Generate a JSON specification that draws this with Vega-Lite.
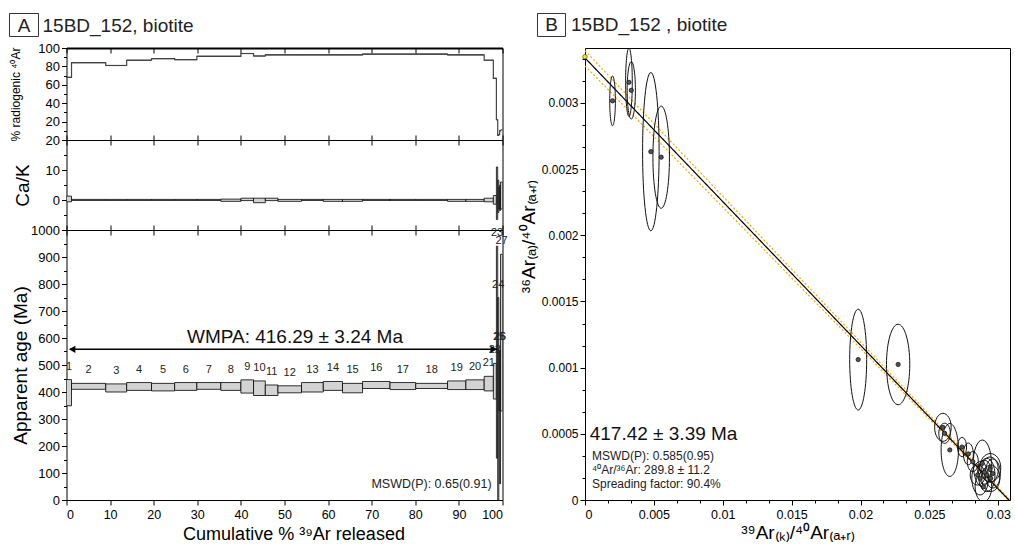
{
  "$schema": "https://vega.github.io/schema/vega-lite/v6.json",
  "padding": {"left": 6.5, "top": 10, "right": 2, "bottom": 2},
  "spacing": 9.5,
  "config": {
    "font": "Liberation Sans",
    "view": {"stroke": "#000", "strokeWidth": 1},
    "axis": {"domain": false, "grid": false, "labelColor": "#000", "tickColor": "#000", "titleColor": "#000", "titleFontWeight": "normal", "labelFontSize": 13, "tickWidth": 1, "labelOverlap": false}
  },
  "datasets": {
    "one": [{}],
    "steps": [
      {"step": 1, "c0": 0, "c1": 1.15, "rad": 68, "caLo": -0.6, "caHi": 1.3, "ageLo": 349, "ageHi": 446},
      {"step": 2, "c0": 1.15, "c1": 9.0, "rad": 84, "caLo": -0.15, "caHi": 0.2, "ageLo": 410, "ageHi": 432},
      {"step": 3, "c0": 9.0, "c1": 13.8, "rad": 81, "caLo": -0.15, "caHi": 0.2, "ageLo": 400, "ageHi": 430},
      {"step": 4, "c0": 13.8, "c1": 19.5, "rad": 86.7, "caLo": -0.15, "caHi": 0.2, "ageLo": 406, "ageHi": 435},
      {"step": 5, "c0": 19.5, "c1": 24.8, "rad": 88.5, "caLo": -0.15, "caHi": 0.2, "ageLo": 404, "ageHi": 432},
      {"step": 6, "c0": 24.8, "c1": 29.9, "rad": 87.4, "caLo": -0.15, "caHi": 0.2, "ageLo": 406, "ageHi": 435},
      {"step": 7, "c0": 29.9, "c1": 35.4, "rad": 91, "caLo": -0.15, "caHi": 0.2, "ageLo": 410, "ageHi": 435},
      {"step": 8, "c0": 35.4, "c1": 40.0, "rad": 91, "caLo": -0.45, "caHi": 0.3, "ageLo": 406, "ageHi": 435},
      {"step": 9, "c0": 40.0, "c1": 42.9, "rad": 94, "caLo": -0.2, "caHi": 0.6, "ageLo": 396, "ageHi": 445},
      {"step": 10, "c0": 42.9, "c1": 45.6, "rad": 91.3, "caLo": -0.9, "caHi": 0.6, "ageLo": 387, "ageHi": 441},
      {"step": 11, "c0": 45.6, "c1": 48.5, "rad": 92.6, "caLo": -0.2, "caHi": 0.6, "ageLo": 387, "ageHi": 426},
      {"step": 12, "c0": 48.5, "c1": 53.9, "rad": 92.6, "caLo": -0.45, "caHi": 0.2, "ageLo": 397, "ageHi": 423},
      {"step": 13, "c0": 53.9, "c1": 58.9, "rad": 92.6, "caLo": -0.15, "caHi": 0.2, "ageLo": 400, "ageHi": 435},
      {"step": 14, "c0": 58.9, "c1": 63.3, "rad": 92.6, "caLo": -0.45, "caHi": 0.2, "ageLo": 406, "ageHi": 439},
      {"step": 15, "c0": 63.3, "c1": 67.9, "rad": 92.6, "caLo": -0.45, "caHi": 0.2, "ageLo": 397, "ageHi": 432},
      {"step": 16, "c0": 67.9, "c1": 74.2, "rad": 93.3, "caLo": -0.15, "caHi": 0.2, "ageLo": 413, "ageHi": 439},
      {"step": 17, "c0": 74.2, "c1": 80.1, "rad": 93.3, "caLo": -0.15, "caHi": 0.2, "ageLo": 409, "ageHi": 435},
      {"step": 18, "c0": 80.1, "c1": 87.4, "rad": 93.3, "caLo": -0.15, "caHi": 0.2, "ageLo": 413, "ageHi": 432},
      {"step": 19, "c0": 87.4, "c1": 91.6, "rad": 92.6, "caLo": -0.45, "caHi": 0.2, "ageLo": 409, "ageHi": 441},
      {"step": 20, "c0": 91.6, "c1": 95.8, "rad": 92.6, "caLo": -0.45, "caHi": 0.2, "ageLo": 409, "ageHi": 445},
      {"step": 21, "c0": 95.8, "c1": 97.9, "rad": 86.7, "caLo": -0.6, "caHi": 0.6, "ageLo": 404, "ageHi": 458},
      {"step": 22, "c0": 97.9, "c1": 98.6, "rad": 67, "caLo": -1.4, "caHi": 1.5, "ageLo": 374, "ageHi": 506},
      {"step": 23, "c0": 98.6, "c1": 98.9, "rad": 22, "caLo": -6.5, "caHi": 11, "ageLo": 155, "ageHi": 940},
      {"step": 24, "c0": 98.9, "c1": 99.15, "rad": 5, "caLo": -4.2, "caHi": 6.6, "ageLo": -50, "ageHi": 750},
      {"step": 25, "c0": 99.15, "c1": 99.35, "rad": 6, "caLo": -3, "caHi": 4.3, "ageLo": 330, "ageHi": 555},
      {"step": 26, "c0": 99.35, "c1": 99.55, "rad": 10, "caLo": -3.5, "caHi": 5, "ageLo": 60, "ageHi": 555},
      {"step": 27, "c0": 99.55, "c1": 100, "rad": 11, "caLo": -3, "caHi": 6, "ageLo": 330, "ageHi": 910}
    ],
    "iso": [
      {"x": 0.00200, "y": 0.003016, "sx": 0.000205, "sy": 0.000188},
      {"x": 0.00319, "y": 0.003156, "sx": 0.000242, "sy": 0.000258},
      {"x": 0.00336, "y": 0.003095, "sx": 0.000300, "sy": 0.000217},
      {"x": 0.00478, "y": 0.002632, "sx": 0.000600, "sy": 0.000598},
      {"x": 0.00553, "y": 0.002590, "sx": 0.000600, "sy": 0.000386},
      {"x": 0.01983, "y": 0.001061, "sx": 0.000616, "sy": 0.000381},
      {"x": 0.02273, "y": 0.001024, "sx": 0.000845, "sy": 0.000304},
      {"x": 0.02598, "y": 0.000549, "sx": 0.000600, "sy": 0.000106},
      {"x": 0.02610, "y": 0.000504, "sx": 0.000420, "sy": 0.000076},
      {"x": 0.02648, "y": 0.000378, "sx": 0.000630, "sy": 0.000200},
      {"x": 0.02737, "y": 0.000400, "sx": 0.000325, "sy": 0.000073},
      {"x": 0.02783, "y": 0.000348, "sx": 0.000360, "sy": 0.000082},
      {"x": 0.02815, "y": 0.000290, "sx": 0.000400, "sy": 0.000076},
      {"x": 0.02884, "y": 0.000277, "sx": 0.000660, "sy": 0.000176},
      {"x": 0.02942, "y": 0.000244, "sx": 0.000760, "sy": 0.000107},
      {"x": 0.02916, "y": 0.000189, "sx": 0.000600, "sy": 0.000126},
      {"x": 0.02868, "y": 0.000164, "sx": 0.000600, "sy": 0.000126},
      {"x": 0.02940, "y": 0.000230, "sx": 0.000600, "sy": 0.000095},
      {"x": 0.02892, "y": 0.000100, "sx": 0.000600, "sy": 0.000113},
      {"x": 0.02945, "y": 0.000164, "sx": 0.000660, "sy": 0.000100},
      {"x": 0.02850, "y": 0.000189, "sx": 0.000540, "sy": 0.000076},
      {"x": 0.02900, "y": 0.000210, "sx": 0.000500, "sy": 0.000090},
      {"x": 0.02960, "y": 0.000200, "sx": 0.000550, "sy": 0.000110}
    ],
    "lines": [
      {"line": "upper", "x": 0, "y": 0.003395},
      {"line": "upper", "x": 0.03085, "y": 0.0},
      {"line": "lower", "x": 0, "y": 0.00328},
      {"line": "lower", "x": 0.03072, "y": 0.0},
      {"line": "fit", "x": 0, "y": 0.00334},
      {"line": "fit", "x": 0.03077, "y": 0.0}
    ]
  },
  "hconcat": [
    {
      "spacing": 0,
      "bounds": "flush",
      "vconcat": [
        {
          "width": 436,
          "height": 92,
          "layer": [
            {
              "data": {"name": "steps"},
              "mark": {"type": "line", "interpolate": "step-after", "color": "#444", "strokeWidth": 1.2},
              "encoding": {
                "x": {"field": "c0", "type": "quantitative", "scale": {"domain": [0, 100], "nice": false},
                  "axis": {"orient": "bottom", "values": [0,10,20,30,40,50,60,70,80,90,100], "tickCount": 100, "labels": false, "tickSize": -5, "title": null}},
                "y": {"field": "rad", "type": "quantitative", "scale": {"domain": [0, 100], "nice": false},
                  "axis": {"values": [0,10,20,30,40,50,60,70,80,90,100], "tickCount": 100, "labelExpr": "datum.value % 20 == 0 && datum.value > 0 ? format(datum.value, 'd') : ''",
                    "tickSize": {"condition": {"test": "datum.value % 20 == 0", "value": 5}, "value": 3},
                    "labelPadding": 2, "title": "% radiogenic ⁴⁰Ar", "titleFontSize": 12, "titlePadding": 15}}
              }
            },
            {
              "data": {"name": "steps"},
              "mark": {"type": "rule", "color": "#444", "strokeWidth": 1.2},
              "encoding": {
                "x": {"field": "c0", "type": "quantitative",
                  "axis": {"orient": "top", "values": [0,10,20,30,40,50,60,70,80,90,100], "tickCount": 100, "labels": false, "tickSize": -5, "title": null, "domain": true, "domainWidth": 2, "domainColor": "#000"}},
                "x2": {"field": "c1"},
                "y": {"field": "rad", "type": "quantitative"}
              }
            },
            {
              "data": {"name": "one"},
              "mark": {"type": "point", "shape": "M -14.5 -11.5 L 14.5 -11.5 L 14.5 11.5 L -14.5 11.5 Z", "size": 4, "filled": false, "stroke": "#333", "strokeWidth": 1, "opacity": 1},
              "encoding": {
                "x": {"datum": -9.75, "type": "quantitative", "axis": null},
                "y": {"datum": 125, "type": "quantitative"}
              }
            },
            {
              "data": {"name": "one"},
              "mark": {"type": "text", "text": "A", "fontSize": 19, "align": "center", "baseline": "alphabetic", "color": "#222"},
              "encoding": {
                "x": {"datum": -9.75, "type": "quantitative", "axis": null},
                "y": {"datum": 117.9, "type": "quantitative"}
              }
            },
            {
              "data": {"name": "one"},
              "mark": {"type": "text", "text": "15BD_152, biotite", "fontSize": 19, "align": "left", "baseline": "alphabetic", "color": "#222"},
              "encoding": {
                "x": {"datum": -5.5, "type": "quantitative", "axis": null},
                "y": {"datum": 117.9, "type": "quantitative"}
              }
            }
          ],
          "resolve": {"axis": {"x": "independent"}}
        },
        {
          "width": 436,
          "height": 90,
          "data": {"name": "steps"},
          "layer": [
            {
              "transform": [{"filter": "datum.step <= 22"}],
              "mark": {"type": "rect", "fill": "#d3d3d3", "stroke": "#000", "strokeWidth": 0.8, "clip": true},
              "encoding": {
                "x": {"field": "c0", "type": "quantitative", "scale": {"domain": [0, 100], "nice": false},
                  "axis": {"orient": "bottom", "values": [0,10,20,30,40,50,60,70,80,90,100], "tickCount": 100, "labels": false, "tickSize": -5, "title": null}},
                "x2": {"field": "c1"},
                "y": {"field": "caLo", "type": "quantitative", "scale": {"domain": [-10, 20], "nice": false, "zero": false},
                  "axis": {"values": [-10,-5,0,5,10,15,20], "tickCount": 100, "labelExpr": "datum.value % 10 == 0 && datum.value >= 0 ? format(datum.value, 'd') : ''",
                    "tickSize": {"condition": {"test": "datum.value % 10 == 0", "value": 5}, "value": 3},
                    "labelPadding": 2, "title": "Ca/K", "titleFontSize": 19, "titlePadding": 13}},
                "y2": {"field": "caHi"}
              }
            },
            {
              "transform": [{"filter": "datum.step > 22"}],
              "mark": {"type": "rect", "fill": "#d3d3d3", "stroke": "#000", "strokeWidth": 0.8, "clip": true},
              "encoding": {
                "x": {"field": "c0", "type": "quantitative",
                  "axis": {"orient": "top", "values": [0,10,20,30,40,50,60,70,80,90,100], "tickCount": 100, "labels": false, "tickSize": -5, "title": null}},
                "x2": {"field": "c1"},
                "y": {"field": "caLo", "type": "quantitative"},
                "y2": {"field": "caHi"}
              }
            }
          ],
          "resolve": {"axis": {"x": "independent"}}
        },
        {
          "width": 436,
          "height": 270,
          "layer": [
            {
              "data": {"name": "steps"},
              "mark": {"type": "rect", "fill": "#d3d3d3", "stroke": "#000", "strokeWidth": 0.8, "clip": true},
              "encoding": {
                "x": {"field": "c0", "type": "quantitative", "scale": {"domain": [0, 100], "nice": false},
                  "axis": {"orient": "bottom", "values": [0,10,20,30,40,50,60,70,80,90,100], "tickCount": 100, "tickSize": 5, "labelPadding": 3, "labelFontSize": 12.5,
                    "title": "Cumulative %  ³⁹Ar released", "titleFontSize": 18, "titlePadding": 5, "titleX": 227}},
                "x2": {"field": "c1"},
                "y": {"field": "ageLo", "type": "quantitative", "scale": {"domain": [0, 1000], "nice": false},
                  "axis": {"values": [0,50,100,150,200,250,300,350,400,450,500,550,600,650,700,750,800,850,900,950,1000], "tickCount": 100,
                    "labelExpr": "datum.value % 100 == 0 ? format(datum.value, 'd') : ''",
                    "tickSize": {"condition": {"test": "datum.value % 100 == 0", "value": 5}, "value": 3},
                    "labelPadding": 2, "title": "Apparent age (Ma)", "titleFontSize": 19, "titlePadding": 0}},
                "y2": {"field": "ageHi"}
              }
            },
            {
              "data": {"name": "steps"},
              "transform": [{"calculate": "(datum.c0 + datum.c1) / 2", "as": "mid"}],
              "mark": {"type": "text", "fontSize": 11, "dy": -10, "baseline": "alphabetic", "align": "center", "color": "#222"},
              "encoding": {
                "x": {"field": "mid", "type": "quantitative",
                  "axis": {"orient": "top", "values": [0,10,20,30,40,50,60,70,80,90,100], "tickCount": 100, "labels": false, "tickSize": -5, "title": null}},
                "y": {"field": "ageHi", "type": "quantitative"},
                "text": {"field": "step", "type": "quantitative", "format": "d"}
              }
            },
            {
              "data": {"name": "one"},
              "mark": {"type": "rule", "color": "#000", "strokeWidth": 1.5},
              "encoding": {
                "x": {"datum": 0.8, "type": "quantitative", "axis": null},
                "x2": {"datum": 98.8},
                "y": {"datum": 558, "type": "quantitative"}
              }
            },
            {
              "data": {"name": "one"},
              "mark": {"type": "point", "shape": "triangle-left", "size": 55, "filled": true, "color": "#000", "opacity": 1},
              "encoding": {
                "x": {"datum": 1.3, "type": "quantitative", "axis": null},
                "y": {"datum": 558, "type": "quantitative"}
              }
            },
            {
              "data": {"name": "one"},
              "mark": {"type": "point", "shape": "triangle-right", "size": 55, "filled": true, "color": "#000", "opacity": 1},
              "encoding": {
                "x": {"datum": 98.0, "type": "quantitative", "axis": null},
                "y": {"datum": 558, "type": "quantitative"}
              }
            },
            {
              "data": {"name": "one"},
              "mark": {"type": "text", "text": "WMPA: 416.29 ± 3.24 Ma", "fontSize": 19, "align": "center", "baseline": "alphabetic", "color": "#111"},
              "encoding": {
                "x": {"datum": 52.4, "type": "quantitative", "axis": null},
                "y": {"datum": 583, "type": "quantitative"}
              }
            },
            {
              "data": {"name": "one"},
              "mark": {"type": "text", "text": "MSWD(P): 0.65(0.91)", "fontSize": 12.5, "align": "right", "baseline": "alphabetic", "color": "#222"},
              "encoding": {
                "x": {"datum": 97.5, "type": "quantitative", "axis": null},
                "y": {"datum": 43, "type": "quantitative"}
              }
            }
          ],
          "resolve": {"axis": {"x": "independent"}}
        }
      ]
    },
    {
      "width": 425,
      "height": 452,
      "layer": [
        {
          "data": {"name": "lines"},
          "mark": {"type": "line", "strokeWidth": 1.2},
          "encoding": {
            "x": {"field": "x", "type": "quantitative", "scale": {"domain": [0, 0.03085], "nice": false},
              "axis": {"values": [0,0.0016667,0.0033333,0.005,0.0066667,0.0083333,0.01,0.0116667,0.0133333,0.015,0.0166667,0.0183333,0.02,0.0216667,0.0233333,0.025,0.0266667,0.0283333,0.03], "tickCount": 100,
                "labelExpr": "abs(datum.value*200 - round(datum.value*200)) < 0.01 ? format(datum.value, '~g') : ''",
                "tickSize": {"condition": {"test": "abs(datum.value*200 - round(datum.value*200)) < 0.01", "value": 5}, "value": 3},
                "labelFontSize": 12.5, "labelPadding": 3,
                "title": "³⁹Ar₍ₖ₎/⁴⁰Ar₍ₐ₊ᵣ₎", "titleFontSize": 19, "titlePadding": 3}},
            "y": {"field": "y", "type": "quantitative", "scale": {"domain": [0, 0.003415], "nice": false},
              "axis": {"values": [0,0.00016667,0.00033333,0.0005,0.00066667,0.00083333,0.001,0.00116667,0.00133333,0.0015,0.00166667,0.00183333,0.002,0.00216667,0.00233333,0.0025,0.00266667,0.00283333,0.003,0.00316667,0.00333333], "tickCount": 100,
                "labelExpr": "abs(datum.value*2000 - round(datum.value*2000)) < 0.01 ? format(datum.value, '~g') : ''",
                "tickSize": {"condition": {"test": "abs(datum.value*2000 - round(datum.value*2000)) < 0.01", "value": 5}, "value": 3},
                "labelFontSize": 12, "labelPadding": 2,
                "title": "³⁶Ar₍ₐ₎/⁴⁰Ar₍ₐ₊ᵣ₎", "titleFontSize": 19, "titlePadding": 3, "titleY": 188}},
            "color": {"field": "line", "type": "nominal", "scale": {"domain": ["upper", "lower", "fit"], "range": ["#ffa500", "#ffa500", "#000"]}, "legend": null},
            "strokeDash": {"field": "line", "type": "nominal", "scale": {"domain": ["upper", "lower", "fit"], "range": [[2, 2], [2, 2], [1, 0]]}, "legend": null}
          }
        },
        {
          "data": {"name": "iso"},
          "transform": [
            {"calculate": "'M ' + (-datum.sx*13776) + ' 0 A ' + (datum.sx*13776) + ' ' + (datum.sy*132357) + ' 0 1 0 ' + (datum.sx*13776) + ' 0 A ' + (datum.sx*13776) + ' ' + (datum.sy*132357) + ' 0 1 0 ' + (-datum.sx*13776) + ' 0 Z'", "as": "ell"}
          ],
          "mark": {"type": "point", "size": 4, "filled": false, "stroke": "#111", "strokeWidth": 1, "opacity": 1, "clip": true},
          "encoding": {
            "x": {"field": "x", "type": "quantitative"},
            "y": {"field": "y", "type": "quantitative"},
            "shape": {"field": "ell", "type": "nominal", "scale": null}
          }
        },
        {
          "data": {"name": "iso"},
          "mark": {"type": "point", "size": 18, "filled": true, "fill": "#555", "stroke": "#111", "strokeWidth": 0.8, "opacity": 1},
          "encoding": {
            "x": {"field": "x", "type": "quantitative"},
            "y": {"field": "y", "type": "quantitative"}
          }
        },
        {
          "data": {"name": "one"},
          "mark": {"type": "point", "size": 20, "filled": true, "fill": "#ffe600", "stroke": "#555", "strokeWidth": 0.8, "opacity": 1},
          "encoding": {
            "x": {"datum": 0, "type": "quantitative"},
            "y": {"datum": 0.003349, "type": "quantitative"}
          }
        },
        {
          "data": {"name": "one"},
          "mark": {"type": "text", "text": "417.42 ± 3.39 Ma", "fontSize": 19, "align": "left", "baseline": "alphabetic", "color": "#111"},
          "encoding": {
            "x": {"datum": 0.00034, "type": "quantitative"},
            "y": {"datum": 0.00045, "type": "quantitative"}
          }
        },
        {
          "data": {"name": "one"},
          "mark": {"type": "text", "text": "MSWD(P): 0.585(0.95)", "fontSize": 12, "align": "left", "baseline": "alphabetic", "color": "#222"},
          "encoding": {
            "x": {"datum": 0.000508, "type": "quantitative"},
            "y": {"datum": 0.000301, "type": "quantitative"}
          }
        },
        {
          "data": {"name": "one"},
          "mark": {"type": "text", "text": "⁴⁰Ar/³⁶Ar: 289.8 ± 11.2", "fontSize": 12, "align": "left", "baseline": "alphabetic", "color": "#222"},
          "encoding": {
            "x": {"datum": 0.000508, "type": "quantitative"},
            "y": {"datum": 0.000195, "type": "quantitative"}
          }
        },
        {
          "data": {"name": "one"},
          "mark": {"type": "text", "text": "Spreading factor: 90.4%", "fontSize": 12, "align": "left", "baseline": "alphabetic", "color": "#222"},
          "encoding": {
            "x": {"datum": 0.000508, "type": "quantitative"},
            "y": {"datum": 0.0000869, "type": "quantitative"}
          }
        },
        {
          "data": {"name": "one"},
          "mark": {"type": "point", "shape": "M -14 -11.5 L 14 -11.5 L 14 11.5 L -14 11.5 Z", "size": 4, "filled": false, "stroke": "#333", "strokeWidth": 1, "opacity": 1},
          "encoding": {
            "x": {"datum": -0.002432, "type": "quantitative"},
            "y": {"datum": 0.003589, "type": "quantitative"}
          }
        },
        {
          "data": {"name": "one"},
          "mark": {"type": "text", "text": "B", "fontSize": 19, "align": "center", "baseline": "alphabetic", "color": "#222"},
          "encoding": {
            "x": {"datum": -0.002432, "type": "quantitative"},
            "y": {"datum": 0.00354, "type": "quantitative"}
          }
        },
        {
          "data": {"name": "one"},
          "mark": {"type": "text", "text": "15BD_152 , biotite", "fontSize": 19, "align": "left", "baseline": "alphabetic", "color": "#222"},
          "encoding": {
            "x": {"datum": -0.001016, "type": "quantitative"},
            "y": {"datum": 0.00354, "type": "quantitative"}
          }
        }
      ]
    }
  ]
}
